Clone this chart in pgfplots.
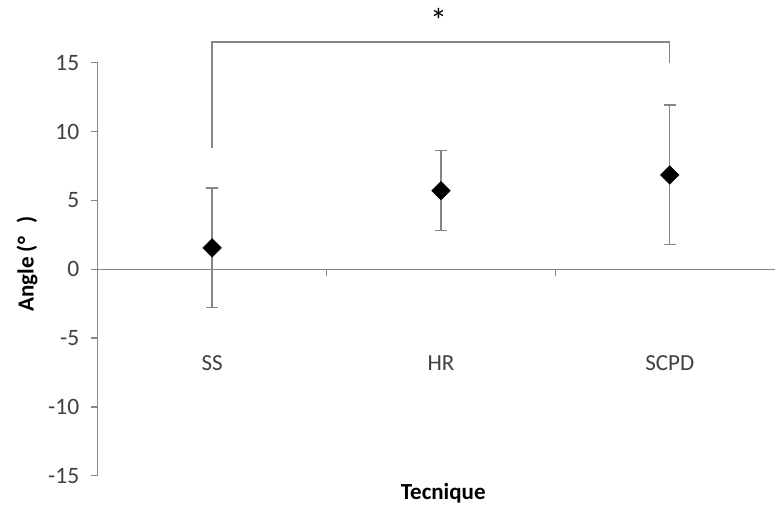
\documentclass[border=0pt]{standalone}
\usepackage{fontspec}
\setmainfont{Carlito}
\usepackage{pgfplots}
\pgfplotsset{compat=1.18}
\definecolor{axisgray}{HTML}{868686}
\definecolor{labelgray}{HTML}{404040}

\begin{document}
\begin{tikzpicture}
\begin{axis}[
  scale only axis, width=677.3pt, height=413pt,
  xmin=-0.5, xmax=2.46, ymin=-15, ymax=15,
  axis y line=left, axis x line=middle,
  axis line style={axisgray, line width=1.3pt, -},
  ytick={-15,-10,...,15},
  xtick={0.5,1.5}, xticklabels={},
  tick style={axisgray, line width=1.3pt},
  ytick align=outside, xtick align=outside,
  major tick length=7pt,
  yticklabel style={font=\fontsize{23.5}{28}\selectfont, text=labelgray, xshift=-8pt},
  /pgf/number format/assume math mode=true,
  clip=false,
]
\coordinate (sw) at (rel axis cs:0,0);

% mean angle with standard deviation for each technique
\addplot[only marks, mark=square*, mark size=6.6pt,
  mark options={rotate=45, fill=black, draw=black},
  error bars/.cd, y dir=both, y explicit,
  error bar style={axisgray, line width=1.3pt},
  error mark options={axisgray, mark size=6pt, line width=1.3pt, rotate=90}]
  table[x=x, y=y, y error=e] {
x y e
0 1.55 4.35
1 5.70 2.90
2 6.85 5.08
};

% significance bracket between SS and SCPD
\draw[axisgray, line width=1.3pt]
  (axis cs:0,8.8) -- (axis cs:0,16.5) -- (axis cs:2,16.5) -- (axis cs:2,15.0);
\node[font=\fontsize{34}{40}\selectfont, inner sep=0pt, anchor=north] at (axis cs:0.99,18.95) {*};

% category names
\node[font=\fontsize{23}{28}\selectfont, text=labelgray] at (axis cs:0,-6.85) {SS};
\node[font=\fontsize{23}{28}\selectfont, text=labelgray] at (axis cs:1,-6.85) {HR};
\node[font=\fontsize{23}{28}\selectfont, text=labelgray] at (axis cs:2,-6.85) {SCPD};

% axis titles
\node[font=\bfseries\fontsize{23}{28}\selectfont, inner sep=0pt] at (axis cs:1.01,-16.3) {Tecnique};
\node[font=\bfseries\fontsize{23}{28}\selectfont, rotate=90] at ([xshift=-70.7pt]axis cs:-0.5,0.36) {Angle (°\hspace{13pt})};
\end{axis}
\pgfresetboundingbox
\path ([shift={(-97.7pt,-30.3pt)}]sw) rectangle ([shift={(677.3pt,475.7pt)}]sw);
\end{tikzpicture}
\end{document}
